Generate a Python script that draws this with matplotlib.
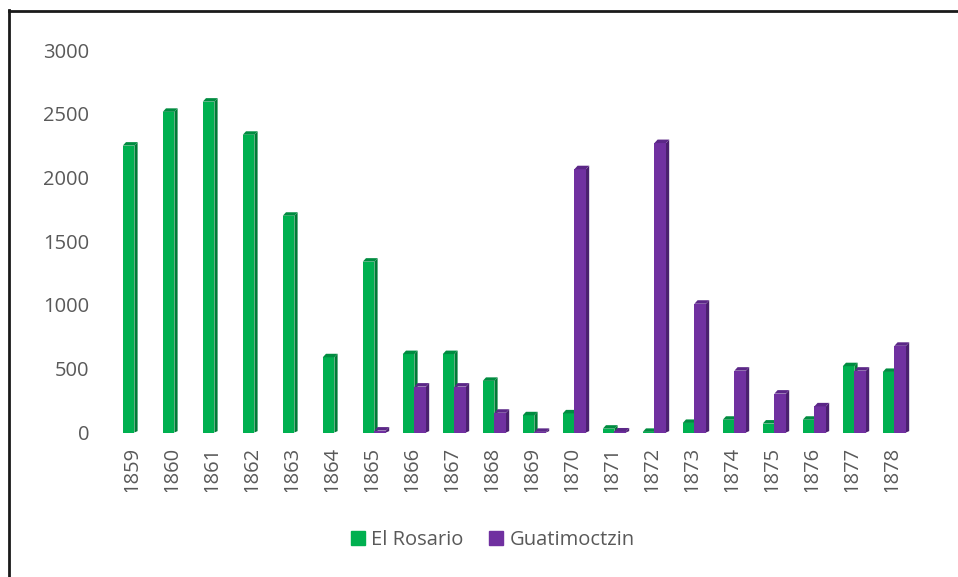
import matplotlib.pyplot as plt
from matplotlib.patches import Polygon, Patch
from matplotlib.lines import Line2D
from matplotlib.transforms import Bbox, TransformedBbox

plt.rcParams['font.family'] = ['Open Sans', 'DejaVu Sans']

# Producción anual por hacienda (miles de pesos)
anios = ['1859', '1860', '1861', '1862', '1863', '1864', '1865', '1866', '1867', '1868',
         '1869', '1870', '1871', '1872', '1873', '1874', '1875', '1876', '1877', '1878']
el_rosario = [2250, 2515, 2595, 2335, 1700, 590, 1340, 615, 615, 405,
              135, 150, 30, 5, 75, 100, 70, 100, 520, 475]
guatimoctzin = [0, 0, 0, 0, 0, 0, 15, 360, 360, 155,
                5, 2065, 8, 2270, 1010, 485, 305, 205, 485, 680]

# colores: frente, lado, techo
verde = ('#00B050', '#007A36', '#008C40')
morado = ('#7030A0', '#4A1F6E', '#5B2787')

W, H = 958, 577
fig = plt.figure(figsize=(W / 100, H / 100), dpi=100)
ax = fig.add_axes([112 / W, 1 - 432.5 / H, 800 / W, 382.5 / H])

ancho = 0.29
prof_x = 0.08          # profundidad del efecto 3D en unidades de categoría
prof_y = 3.5 / 0.1275  # y en unidades de datos (~3.5 px)


def columnas(pos, valores, colores):
    cara, lado, techo = colores
    ax.bar(pos, valores, width=ancho, align='edge', color=cara, linewidth=0)
    for x0, v in zip(pos, valores):
        if v <= 0:
            continue
        x1 = x0 + ancho
        ax.add_patch(Polygon([(x1, 0), (x1 + prof_x, prof_y * 0.4), (x1 + prof_x, v + prof_y), (x1, v)],
                             closed=True, color=lado, linewidth=0))
        ax.add_patch(Polygon([(x0, v), (x0 + prof_x, v + prof_y), (x1 + prof_x, v + prof_y), (x1, v)],
                             closed=True, color=techo, linewidth=0))


idx = list(range(len(anios)))
columnas([i - 0.23 for i in idx], el_rosario, verde)
columnas([i + 0.06 for i in idx], guatimoctzin, morado)

ax.set_xlim(-0.5, len(anios) - 0.5)
ax.set_ylim(0, 3000)
ax.set_yticks(range(0, 3001, 500))
ax.set_xticks(idx)
ax.set_xticklabels(anios, rotation=90)
ax.tick_params(axis='y', length=0, pad=16.5, labelsize=14.5, labelcolor='#595959')
ax.tick_params(axis='x', length=0, pad=10, labelsize=14.5, labelcolor='#595959')
for s in ax.spines.values():
    s.set_visible(False)

# las etiquetas del eje x quedan recortadas en la parte inferior
recorte = TransformedBbox(Bbox([[0, 85 / H], [1, 1]]), fig.transFigure)
for lbl in ax.get_xticklabels():
    lbl.set_clip_box(recorte)
    lbl.set_clip_on(True)

fig.legend(handles=[Patch(color=verde[0], label='El Rosario'),
                    Patch(color=morado[0], label='Guatimoctzin')],
           loc='center', bbox_to_anchor=(492.5 / W, 1 - 540 / H), ncol=2, frameon=False,
           fontsize=14.5, labelcolor='#595959', handlelength=0.7, handleheight=0.7,
           handletextpad=0.3, columnspacing=1.3)

# título (queda por encima del borde superior)
fig.text(437 / W, 1 + 11 / H, '(miles de pesos)', ha='center', va='baseline',
         fontsize=21.5, fontweight='bold', family='Liberation Serif')

# marco
fig.add_artist(Line2D([9 / W, 9 / W], [0, 1 - 10 / H], transform=fig.transFigure,
                      color='#1a1a1a', lw=2))
fig.add_artist(Line2D([9 / W, 1], [1 - 10.5 / H, 1 - 10.5 / H], transform=fig.transFigure,
                      color='#1a1a1a', lw=2))

fig.savefig('out.png', dpi=100)
